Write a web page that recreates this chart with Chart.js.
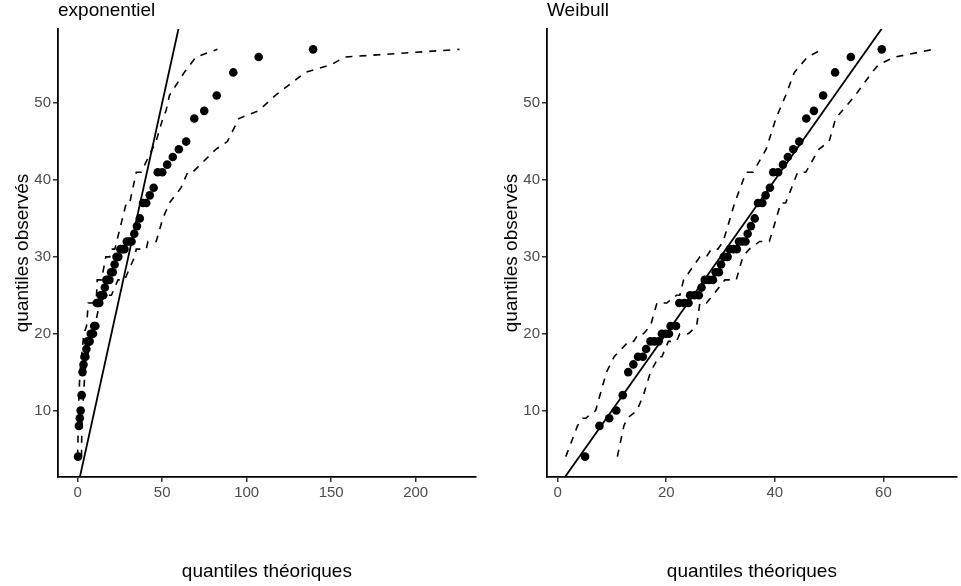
<!DOCTYPE html>
<html>
<head>
<meta charset="utf-8">
<script src="https://cdn.jsdelivr.net/npm/chart.js@4.4.1/dist/chart.umd.min.js"></script>
<style>
  body { margin: 0; background: #fff; }
  #wrap { position: relative; width: 961px; height: 586px; }
  canvas { position: absolute; top: 0; }
  #cExp { left: 0; }
  #cWei { left: 481px; }
</style>
</head>
<body>
<div id="wrap">
  <canvas id="cExp" width="480" height="586"></canvas>
  <canvas id="cWei" width="480" height="586"></canvas>
</div>
<script>
// observed sample, sorted
var observed = [4, 8, 9, 10, 12, 15, 16, 17, 17, 18, 19, 19, 19, 20, 20, 20, 21, 21,
    24, 24, 24, 25, 25, 25, 26, 27, 27, 27, 28, 28, 29, 30, 30, 31, 31, 31,
    32, 32, 32, 33, 34, 35, 37, 37, 38, 39, 41, 41, 42, 43, 44, 45, 48, 49,
    51, 54, 56, 57];

// theoretical quantiles, exponential fit
var expTheo = [0.25, 0.77, 1.3, 1.8, 2.4, 2.9, 3.5, 4.1, 4.6, 5.2, 5.9, 6.5, 7.1,
    7.8, 8.4, 9.1, 9.8, 10.5, 11.3, 12.0, 12.8, 13.6, 14.4, 15.2, 16.1,
    17.0, 17.9, 18.8, 19.8, 20.8, 21.9, 23.0, 24.1, 25.3, 26.5, 27.7,
    29.1, 30.5, 31.9, 33.5, 35.1, 36.8, 38.7, 40.6, 42.7, 45.0, 47.4, 50.1,
    53.0, 56.3, 59.9, 64.2, 69.0, 74.9, 82.3, 92.1, 107.1, 139.3];

// theoretical quantiles, Weibull fit
var weiTheo = [5.05, 7.7, 9.5, 10.8, 12.0, 13.0, 13.95, 14.8, 15.7, 16.3,
    17.1, 17.8, 18.6, 19.2, 19.9, 20.5, 20.8, 21.8, 22.4, 23.3, 24.1,
    24.4, 25.2, 26.0, 26.5, 27.1, 27.9, 28.6, 29.1, 29.7, 30.1, 30.6, 31.3,
    31.7, 32.4, 33.0, 33.4, 34.0, 34.6, 35.0, 35.6, 36.3, 36.9, 37.7, 38.3,
    39.1, 39.7, 40.6, 41.5, 42.4, 43.4, 44.5, 45.8, 47.2, 48.9, 51.1, 54.0, 59.7];

// envelope, exponential panel
var expLowX = [0, 0.4, 0.8, 1.4, 2.3, 3.7, 5.3, 6.3, 10.2, 11.2, 11.6, 14.1, 16.7, 19.0,
    20.0, 22.0, 28.8, 30.8, 34.7, 37.5, 46.4, 50.4, 52.3, 54.3, 63.1, 70.0, 82.7];
var expLowY = [4, 8, 12, 15, 17, 20, 21, 24, 24, 25, 27, 27, 30, 30,
    31, 31, 37, 37, 41, 41, 45, 48, 49, 51, 54, 56, 57];
var expHighX = [2.3, 2.5, 4.3, 5.7, 9.2, 10.2, 13.1, 17.0, 20.0, 23.9, 27.8, 33.7,
    34.7, 40.6, 41.6, 46.5, 50.4, 54.3, 61.2, 65.1, 68.0, 81.8, 88.6, 95.4,
    107.0, 117.0, 134.7, 150.0, 158.0, 225.9];
var expHighY = [4, 8, 15, 17, 20, 21, 24, 25, 25, 27, 27, 30,
    31, 31, 32, 32, 35, 37, 39, 41, 41, 44, 45, 48,
    49, 51, 54, 55, 56, 57];

// envelope, Weibull panel
var weiLowX = [1.5, 3.65, 4.6, 5.2, 7.0, 9.0, 10.4, 13.1, 14.0, 14.9, 15.8, 17.1, 18.3,
    20.1, 21.9, 22.5, 23.2, 26.2, 27.4, 28.3, 29.5, 30.5, 32.6, 34.7, 36.0,
    38.4, 40.2, 42.0, 43.6, 46.0, 48.7];
var weiLowY = [4, 8, 9, 9, 10, 15, 17, 19, 19, 20, 20, 21, 24,
    24, 25, 25, 27, 30, 30, 31, 31, 32, 37, 41, 41,
    44, 48, 51, 54, 56, 57];
var weiHighX = [11.0, 12.2, 12.8, 14.6, 15.8, 17.1, 18.6, 19.2, 20.4, 21.9, 22.5, 24.1,
    25.6, 26.2, 27.4, 28.6, 30.8, 32.9, 34.1, 35.3, 37.2, 39.0, 41.1, 42.0,
    44.2, 45.7, 48.1, 50.0, 51.2, 53.6, 54.8, 57.9, 59.1, 62.1, 69.2];
var weiHighY = [4, 8, 9, 10, 12, 15, 17, 17, 19, 19, 20, 20,
    21, 24, 24, 25, 27, 27, 30, 31, 32, 32, 37, 37,
    41, 41, 44, 45, 48, 50, 51, 54, 55, 56, 57];

// identity reference line
var refX = [0, 250];
var refY = [0, 250];

var yTicks = [10, 20, 30, 40, 50];
var expXTicks = [0, 50, 100, 150, 200];
var weiXTicks = [0, 20, 40, 60];

var FONT = "'Liberation Sans', Arial, sans-serif";

function pairs(xs, ys) {
    var out = [];
    for (var i = 0; i < xs.length; i++) {
        out.push({ x: xs[i], y: ys[i] });
    }
    return out;
}

// panel title drawn flush with the plot area
var panelTitle = {
    id: 'panelTitle',
    afterDraw: function (chart, args, opts) {
        var ctx = chart.ctx;
        ctx.save();
        ctx.font = '19px ' + FONT;
        ctx.fillStyle = '#000';
        ctx.textAlign = 'left';
        ctx.textBaseline = 'middle';
        ctx.fillText(opts.text, chart.chartArea.left, 11);
        ctx.restore();
    }
};

function dashed(xs, ys) {
    return {
        data: pairs(xs, ys),
        showLine: true,
        borderColor: '#000',
        borderWidth: 1.6,
        borderDash: [7, 7],
        pointRadius: 0,
        fill: false
    };
}

function makePanel(canvasId, title, theo, lowX, lowY, highX, highY, xMin, xMax, xTicks, padLeft) {
    var ctx = document.getElementById(canvasId).getContext('2d');
    return new Chart(ctx, {
        type: 'scatter',
        data: {
            datasets: [
                {
                    data: pairs(theo, observed),
                    backgroundColor: '#000',
                    borderWidth: 0,
                    pointRadius: 4.3
                },
                {
                    data: pairs(refX, refY),
                    showLine: true,
                    borderColor: '#000',
                    borderWidth: 1.8,
                    pointRadius: 0,
                    fill: false
                },
                dashed(lowX, lowY),
                dashed(highX, highY)
            ]
        },
        options: {
            responsive: false,
            animation: false,
            layout: { padding: { left: padLeft, right: 2, top: 29, bottom: 0 } },
            plugins: {
                legend: { display: false },
                tooltip: { enabled: false },
                panelTitle: { text: title }
            },
            scales: {
                x: {
                    type: 'linear',
                    min: xMin,
                    max: xMax,
                    afterBuildTicks: function (axis) {
                        axis.ticks = xTicks.map(function (v) { return { value: v }; });
                    },
                    afterFit: function (axis) { axis.height = 109; },
                    border: { display: true, color: '#000', width: 1.8 },
                    grid: { drawOnChartArea: false, tickLength: 5, color: '#333', lineWidth: 1.5 },
                    ticks: { color: '#4D4D4D', font: { family: FONT, size: 15 }, padding: 2, maxRotation: 0 },
                    title: {
                        display: true,
                        text: 'quantiles théoriques',
                        color: '#000',
                        font: { family: FONT, size: 19 },
                        padding: { top: 0, bottom: 3 }
                    }
                },
                y: {
                    type: 'linear',
                    min: 1.35,
                    max: 59.65,
                    afterBuildTicks: function (axis) {
                        axis.ticks = yTicks.map(function (v) { return { value: v }; });
                    },
                    afterFit: function (axis) { axis.width = 58; },
                    border: { display: true, color: '#000', width: 1.8 },
                    grid: { drawOnChartArea: false, tickLength: 5, color: '#333', lineWidth: 1.5 },
                    ticks: { color: '#4D4D4D', font: { family: FONT, size: 15 }, padding: 2 },
                    title: {
                        display: true,
                        text: 'quantiles observés',
                        color: '#000',
                        font: { family: FONT, size: 19 },
                        padding: { top: 11, bottom: 0 }
                    }
                }
            }
        },
        plugins: [panelTitle]
    });
}

makePanel('cExp', 'exponentiel', expTheo, expLowX, expLowY, expHighX, expHighY, -11.6, 235.5, expXTicks, 0);
makePanel('cWei', 'Weibull', weiTheo, weiLowX, weiLowY, weiHighX, weiHighY, -1.96, 73.5, weiXTicks, 8);
</script>
</body>
</html>
